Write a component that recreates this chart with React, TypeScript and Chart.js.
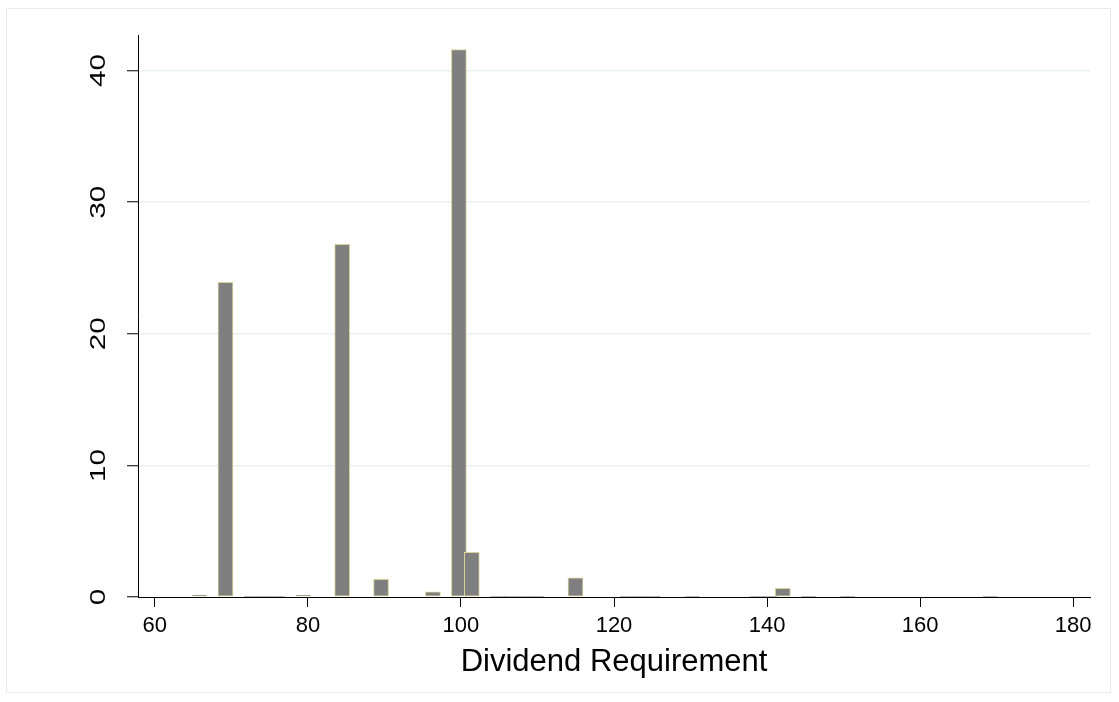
import React, { useEffect, useRef } from "react";
import { Chart, registerables } from "chart.js";

Chart.register(...registerables);

// Histogram bins (bin centres, Dividend Requirement) and their percentages
const binCenters = [
  65.85, 69.23, 72.62, 74.31, 76.01, 79.4, 84.48, 89.56, 96.34, 99.73, 101.42,
  104.81, 106.5, 108.19, 109.89, 114.97, 121.74, 123.44, 125.13, 130.21,
  138.68, 140.37, 142.06, 145.45, 150.53, 169.15,
];
const percents = [
  0.15, 23.9, 0.05, 0.05, 0.05, 0.15, 26.8, 1.35, 0.4, 41.6, 3.4,
  0.05, 0.05, 0.05, 0.05, 1.45, 0.05, 0.05, 0.05, 0.05,
  0.05, 0.05, 0.65, 0.05, 0.05, 0.05,
];
const xTickValues = [60, 80, 100, 120, 140, 160, 180];
const yTickValues = [0, 10, 20, 30, 40];
const xTitle = "Dividend Requirement";

const FONT = "'Liberation Sans', Arial, Helvetica, sans-serif";

export default function App() {
  const ref = useRef<HTMLCanvasElement | null>(null);

  useEffect(() => {
    if (!ref.current) return;
    const labelsPlugin = {
      id: "stataLabels",
      beforeDraw(chart: any) {
        const ctx = chart.ctx;
        ctx.save();
        ctx.fillStyle = "#ffffff";
        ctx.fillRect(0, 0, chart.width, chart.height);
        ctx.strokeStyle = "#e4ecef";
        ctx.lineWidth = 1;
        ctx.strokeRect(6.5, 8.5, 1104, 684);
        ctx.restore();
      },
      afterDraw(chart: any) {
        const ctx = chart.ctx;
        const xs = chart.scales.x;
        const ys = chart.scales.y;
        ctx.save();
        ctx.fillStyle = "#000000";
        ctx.font = `22px ${FONT}`;
        // y tick labels, rotated
        ys.ticks.forEach((t: any) => {
          const py = ys.getPixelForValue(t.value);
          ctx.save();
          ctx.translate(105, py);
          ctx.rotate(-Math.PI / 2);
          ctx.scale(1.35, 1);
          ctx.textAlign = "center";
          ctx.textBaseline = "alphabetic";
          ctx.fillText(String(t.value), 0, 0);
          ctx.restore();
        });
        // x tick labels
        ctx.textAlign = "center";
        ctx.textBaseline = "alphabetic";
        xs.ticks.forEach((t: any) => {
          const px = xs.getPixelForValue(t.value);
          ctx.fillText(String(t.value), px, 632);
        });
        // x title
        ctx.font = `31px ${FONT}`;
        const cx = (chart.chartArea.left + chart.chartArea.right) / 2;
        ctx.fillText(xTitle, cx, 671);
        ctx.restore();
      },
    };

    const chart = new Chart(ref.current, {
      type: "bar",
      data: {
        datasets: [
          {
            data: binCenters.map((c, i) => ({ x: c, y: percents[i] })),
            backgroundColor: "#7f7f7f",
            borderColor: "#d8d29c",
            borderWidth: 1,
            borderSkipped: false,
            barThickness: 15,
          },
        ],
      },
      options: {
        animation: false,
        responsive: false,
        maintainAspectRatio: false,
        layout: { padding: { left: 0, right: 29, top: 35, bottom: 0 } },
        plugins: { legend: { display: false }, tooltip: { enabled: false } },
        scales: {
          x: {
            type: "linear",
            offset: false,
            min: 57.8,
            max: 182.2,
            afterBuildTicks: (s: any) => {
              s.ticks = xTickValues.map((v) => ({ value: v }));
            },
            afterFit: (s: any) => {
              s.height = 105;
            },
            ticks: { display: false },
            grid: {
              offset: false,
              drawOnChartArea: false,
              drawTicks: true,
              tickLength: 10,
              tickColor: "#000000",
              tickWidth: 1,
            },
            border: { display: true, color: "#000000", width: 1 },
          },
          y: {
            type: "linear",
            min: 0,
            max: 42.7,
            afterBuildTicks: (s: any) => {
              s.ticks = yTickValues.map((v) => ({ value: v }));
            },
            afterFit: (s: any) => {
              s.width = 138;
            },
            ticks: { display: false },
            grid: {
              color: (c: any) => (c.tick && c.tick.value === 0 ? "rgba(0,0,0,0)" : "#e8f0f2"),
              lineWidth: 1.5,
              drawTicks: true,
              tickLength: 11,
              tickColor: "#000000",
              tickWidth: 1,
            },
            border: { display: true, color: "#000000", width: 1 },
          },
        },
      },
      plugins: [labelsPlugin],
    });
    return () => chart.destroy();
  }, []);

  return (
    <div style={{ position: "fixed", left: 0, top: 0, width: 1119, height: 702, background: "#fff" }}>
      <canvas ref={ref} width={1119} height={702} style={{ display: "block" }} />
    </div>
  );
}
